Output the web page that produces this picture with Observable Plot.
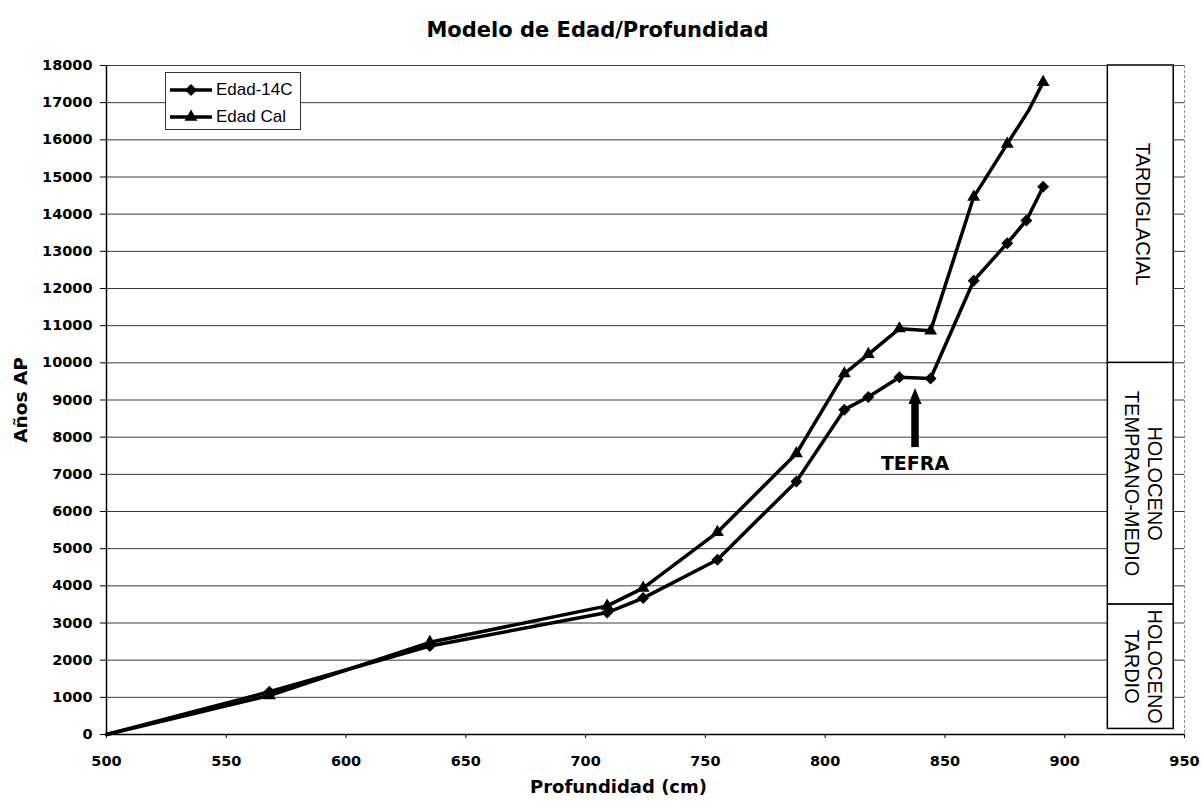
<!DOCTYPE html>
<html><head><meta charset="utf-8">
<script src="https://cdn.jsdelivr.net/npm/d3@7"></script>
<script src="https://cdn.jsdelivr.net/npm/@observablehq/plot@0.6"></script>
<style>
body{margin:0;background:#fff;}
#wrap{position:relative;width:1201px;height:808px;}
#title{position:absolute;left:0;top:17px;width:1195px;text-align:center;font:bold 21px "DejaVu Sans";line-height:26px;color:#000;}
#legend{position:absolute;left:165px;top:72px;width:136px;height:58px;border:1px solid #333;background:#fff;box-sizing:border-box;}
.row{position:absolute;left:0;height:24px;display:flex;align-items:center;font:17px "Liberation Sans";color:#000;}
.row svg{margin-left:3px;margin-right:3px;}
</style></head>
<body><div id="wrap"></div>
<script>
// ---- data ----
const depth14C = [500, 568, 635, 709, 724, 755, 788, 808, 818, 831, 844, 862, 876, 884, 891];
const age14C   = [0, 1150, 2380, 3280, 3670, 4700, 6810, 8740, 9080, 9610, 9580, 12210, 13220, 13830, 14740];
const marked14C = [false, true, true, true, true, true, true, true, true, true, true, true, true, true, true];
const depthCal = [500, 568, 635, 709, 724, 755, 788, 808, 818, 831, 844, 862, 876, 885, 891];
const ageCal   = [0, 1050, 2480, 3460, 3940, 5440, 7560, 9710, 10230, 10920, 10860, 14460, 15890, 16800, 17550];
const markedCal = [false, true, true, true, true, true, true, true, true, true, true, true, true, false, true];
const seriesNames = ["Edad-14C", "Edad Cal"];
const xTicks = [500, 550, 600, 650, 700, 750, 800, 850, 900, 950];
const yTicks = [0, 1000, 2000, 3000, 4000, 5000, 6000, 7000, 8000, 9000, 10000, 11000, 12000, 13000, 14000, 15000, 16000, 17000, 18000];
const periodLabels = ["HOLOCENO\nTARDIO", "HOLOCENO\nTEMPRANO-MEDIO", "TARDIGLACIAL"];
const periodStart = [150, 3500, 10000];
const periodEnd = [3500, 10000, 18000];
const panelDepth = [918, 945.5];
const tefraLabel = ["TEFRA"];
const tefraDepth = [837.5];
const tefraFrom = [7720];
const tefraShaftTop = [8950];
const tefraTip = [9320];
const tefraLabelAge = [7290];

// ---- tables ----
const rows14C = depth14C.map((d, i) => ({depth: d, age: age14C[i], marked: marked14C[i]}));
const rowsCal = depthCal.map((d, i) => ({depth: d, age: ageCal[i], marked: markedCal[i]}));
const periods = periodLabels.map((l, i) => ({label: l, start: periodStart[i], end: periodEnd[i]}));
const tefra = tefraLabel.map((l, i) => ({label: l, depth: tefraDepth[i], from: tefraFrom[i], shaftTop: tefraShaftTop[i], tip: tefraTip[i], labelAge: tefraLabelAge[i]}));

const arrowHead = {draw(ctx) { ctx.moveTo(0, 0); ctx.lineTo(-6.5, 16); ctx.lineTo(6.5, 16); ctx.closePath(); }};

const plot = Plot.plot({
  width: 1201, height: 808,
  marginLeft: 106, marginRight: 17, marginTop: 65, marginBottom: 74,
  style: {fontFamily: "DejaVu Sans", fontSize: "14.5px", fontWeight: "bold", background: "#fff", color: "#000"},
  x: {domain: [500, 950]},
  y: {domain: [0, 18000]},
  marks: [
    Plot.ruleY(yTicks, {stroke: "#3a3a3a", strokeWidth: 1}),
    Plot.ruleX([950], {stroke: "#888", strokeDasharray: "3,2"}),
    Plot.rect(periods, {x1: () => panelDepth[0], x2: () => panelDepth[1], y1: "start", y2: "end", fill: "#fff", stroke: "#000", strokeWidth: 1.5}),
    Plot.text(periods, {x: () => (panelDepth[0] + panelDepth[1]) / 2, y: d => (d.start + d.end) / 2, text: "label", rotate: 90, dx: 3,
      fontFamily: "Liberation Sans", fontWeight: "normal", fontSize: 20, lineHeight: 1.15}),
    Plot.line(rowsCal, {x: "depth", y: "age", stroke: "#000", strokeWidth: 3.5}),
    Plot.line(rows14C, {x: "depth", y: "age", stroke: "#000", strokeWidth: 3.5}),
    Plot.dot(rows14C.filter(d => d.marked), {x: "depth", y: "age", symbol: "diamond2", r: 5.4, fill: "#000"}),
    Plot.dot(rowsCal.filter(d => d.marked), {x: "depth", y: "age", symbol: "triangle", r: 4.8, fill: "#000"}),
    Plot.ruleX(tefra, {x: "depth", y1: "from", y2: "shaftTop", stroke: "#000", strokeWidth: 7.5}),
    Plot.dot(tefra, {x: "depth", y: "tip", symbol: arrowHead, fill: "#000"}),
    Plot.text(tefra, {x: "depth", y: "labelAge", text: "label", fontSize: 19}),
    Plot.ruleX([500], {stroke: "#000", strokeWidth: 1.5}),
    Plot.ruleY([0], {stroke: "#000", strokeWidth: 1.5}),
    Plot.axisY({ticks: yTicks, tickSize: 6, tickPadding: 8, label: null, tickFormat: d => String(d)}),
    Plot.axisX({ticks: xTicks, tickSize: 4, tickPadding: 17, label: null, tickFormat: d => String(d)}),
    Plot.text(["Años AP"], {frameAnchor: "left", text: d => d, rotate: -90, dx: -85, textAnchor: "middle", lineAnchor: "middle", fontSize: 18.5}),
    Plot.text(["Profundidad (cm)"], {frameAnchor: "bottom", text: d => d, dx: -27, dy: 53, textAnchor: "middle", lineAnchor: "middle", fontSize: 18})
  ]
});

const wrap = document.getElementById("wrap");
wrap.appendChild(plot);

const title = document.createElement("div");
title.id = "title";
title.textContent = "Modelo de Edad/Profundidad";
wrap.appendChild(title);

// legend
const legend = document.createElement("div");
legend.id = "legend";
const symbols = [d3.symbolDiamond2, d3.symbolTriangle];
const sizes = [Math.PI * 5.4 * 5.4, Math.PI * 4.8 * 4.8];
seriesNames.forEach((name, i) => {
  const row = document.createElement("div");
  row.className = "row";
  row.style.top = (5 + i * 27) + "px";
  const svg = d3.create("svg").attr("width", 44).attr("height", 24);
  svg.append("line").attr("x1", 1).attr("x2", 43).attr("y1", 12).attr("y2", 12).attr("stroke", "#000").attr("stroke-width", 3.5);
  svg.append("path").attr("transform", "translate(22,12)").attr("d", d3.symbol(symbols[i], sizes[i])()).attr("fill", "#000");
  row.appendChild(svg.node());
  const span = document.createElement("span");
  span.textContent = name;
  row.appendChild(span);
  legend.appendChild(row);
});
wrap.appendChild(legend);
</script>
</body></html>
